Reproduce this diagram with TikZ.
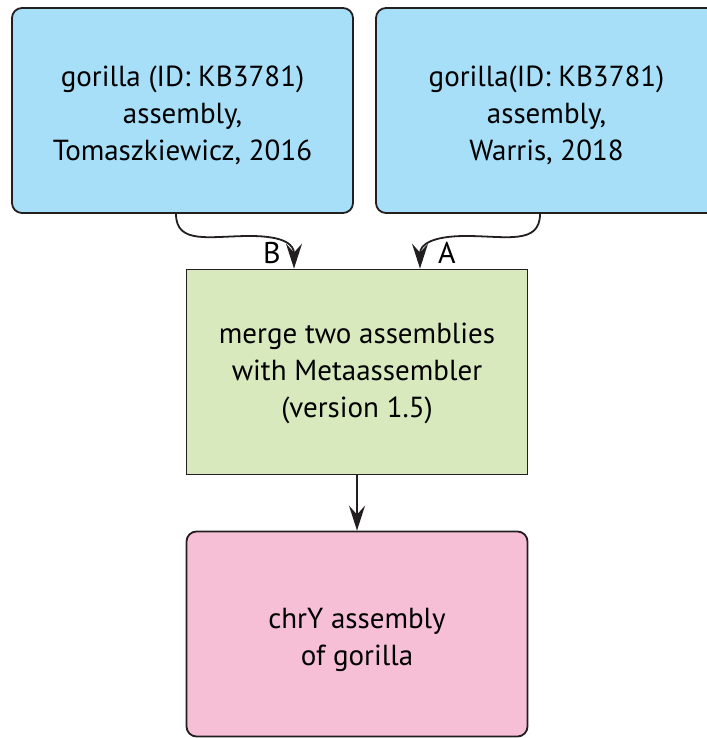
\documentclass[tikz,border=0pt]{standalone}
\usepackage{fontspec}
\setmainfont{PT Sans}
\usetikzlibrary{arrows.meta,positioning}
\definecolor{asm_blue}{RGB}{167, 223, 249}
\definecolor{asm_green}{RGB}{217, 233, 190}
\definecolor{asm_pink}{RGB}{246, 191, 213}
\definecolor{asm_line}{RGB}{35, 31, 32}
\tikzstyle{box}=[draw=asm_line,line width=1.8pt,align=center,
  minimum width=341pt,minimum height=205pt,inner sep=0pt,
  font=\fontsize{29}{37}\selectfont]
\tikzstyle{bn}=[box,fill=asm_blue,rounded corners=10pt,text height=105pt]
\tikzstyle{gn}=[box,fill=asm_green,text height=97pt]
\tikzstyle{pn}=[box,fill=asm_pink,rounded corners=10pt,text height=69pt]
\tikzstyle{conn}=[line width=1.8pt,draw=asm_line,
  -{Stealth[length=25pt,width=16pt,inset=9pt]}]
\tikzstyle{lbl}=[font=\fontsize{30}{32}\selectfont]

\begin{document}
\begin{tikzpicture}[x=1pt,y=-1pt]
    \useasboundingbox (0,0) rectangle (706,738);
        \node [style=bn] (0) at (182.5, 110.5) {gorilla (ID: KB3781)\\assembly,\\Tomaszkiewicz, 2016};
        \node [style=bn] (1) at (546.5, 110.5) {gorilla(ID: KB3781)\\assembly,\\Warris, 2018};
        \node [style=gn] (2) at (357, 372) {merge two assemblies\\with Metaassembler\\(version 1.5)};
        \node [style=pn] (3) at (357, 634) {chrY assembly\\of gorilla};
        \node [style=lbl] (4) at (272, 253) {B};
        \node [style=lbl] (5) at (447, 253) {A};
        \draw [style=conn] ([xshift=-6.5pt]0.south) .. controls (176, 245) and (210, 236) .. (250, 236)
          .. controls (285, 236) and (294, 245) .. ([xshift=-63pt]2.north);
        \draw [style=conn] ([xshift=-6.5pt]1.south) .. controls (540, 245) and (506, 236) .. (466, 236)
          .. controls (431, 236) and (420, 245) .. ([xshift=63pt]2.north);
        \draw [style=conn] (2) to (3);
    \end{tikzpicture}
\end{document}
